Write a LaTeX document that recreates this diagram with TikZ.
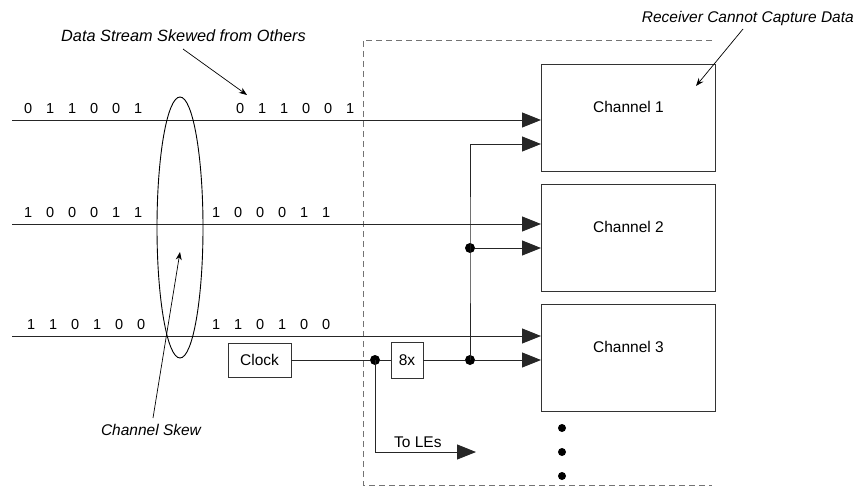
\documentclass[tikz,border=0pt]{standalone}
\usepackage{fontspec}
\setmainfont{Liberation Sans}
\usetikzlibrary{arrows.meta}
\tikzset{
  wire/.style={line width=0.9pt, draw=black!85},
  tip/.style={-{Triangle[length=19pt,width=15pt]}},
  chanbox/.style={draw=black!80, line width=1pt, minimum width=174pt, minimum height=107pt, anchor=north west, inner sep=0pt},
  smallbox/.style={draw=black!80, line width=0.8pt, inner sep=0pt, font=\fontsize{15.5}{18}\selectfont},
  chantext/.style={font=\fontsize{15.5}{18}\selectfont},
  bits/.style={font=\fontsize{14.5}{17}\selectfont, inner sep=0pt, anchor=south west},
  lbl/.style={font=\fontsize{15.5}{18}\selectfont\itshape, inner sep=0pt},
  note/.style={line width=0.7pt, -{Stealth[length=8pt,width=6pt]}},
  dot/.style={circle, fill=black, inner sep=0pt, minimum size=10pt},
  dotsm/.style={circle, fill=black, inner sep=0pt, minimum size=8pt}
}
\newcommand{\bitrow}[6]{#1\hspace{13.9pt}#2\hspace{13.9pt}#3\hspace{13.9pt}#4\hspace{13.9pt}#5\hspace{13.9pt}#6}
\begin{document}
\begin{tikzpicture}[x=1pt,y=-1pt]
\useasboundingbox (0,0) rectangle (857,487);
% dashed receiver region
\draw[black!55, line width=0.6pt, dash pattern=on 6pt off 4pt] (712,40) -- (363,40) -- (363,485) -- (712,485);
% channel boxes
\node[chanbox] (ch1) at (541,64) {};
\node[chanbox] (ch2) at (541,184) {};
\node[chanbox] (ch3) at (541,304) {};
\node[chantext] at ([yshift=-43pt]ch1.north) {Channel 1};
\node[chantext] at ([yshift=-43pt]ch2.north) {Channel 2};
\node[chantext] at ([yshift=-43pt]ch3.north) {Channel 3};
% data lines
\coordinate (s1) at (12,120);
\coordinate (s2) at (12,224);
\coordinate (s3) at (12,336);
\draw[wire,tip] (s1) -- (s1 -| ch1.west);
\draw[wire,tip] (s2) -- (s2 -| ch1.west);
\draw[wire,tip] (s3) -- (s3 -| ch1.west);
% bits
\node[bits] (b1l) at (24,114) {\bitrow011001};
\node[bits] (b1r) at (236,114) {\bitrow011001};
\node[bits] (b2l) at (24,218) {\bitrow100011};
\node[bits] (b2r) at (212,218) {\bitrow100011};
\node[bits] (b3l) at (27,330) {\bitrow110100};
\node[bits] (b3r) at (212,330) {\bitrow110100};
% skew ellipse
\draw[line width=0.9pt] (180,227.5) ellipse [x radius=23, y radius=130.5];
% clock
\node[smallbox, minimum width=63pt, minimum height=34pt] (clk) at (259.5,360) {Clock};
\node[smallbox, minimum width=32pt, minimum height=36pt] (pll) at (407,360) {8x};
\node[dot] (j0) at (375,360) {};
\node[dot] (j3) at (470,360) {};
\node[dot] (j2) at (470,248) {};
\coordinate (j1) at (470,144);
\coordinate (le) at (375,452);
\coordinate (leend) at (476,452);
\draw[wire] (clk.east) -- (j0) -- (pll.west);
\draw[wire] (pll.east) -- (j3);
\draw[wire,tip] (j3) -- (j3 -| ch3.west);
\draw[wire,tip] (j2) -- (j2 -| ch2.west);
\draw[wire,tip] (j3.center) -- (j2.center) -- (j1) -- (j1 -| ch1.west);
\draw[wire,tip] (j0.center) -- (le) -- (leend);
\node[font=\fontsize{15.5}{18}\selectfont, anchor=south west, inner sep=0pt] (tole) at (394,448) {To LEs};
% continuation dots
\node[dotsm] (e1) at (562,428) {};
\node[dotsm] (e2) at (562,452) {};
\node[dotsm] (e3) at (562,476) {};
% annotations
\node[lbl, anchor=west, font=\fontsize{16.3}{19}\selectfont\itshape] (t1) at (61,36) {Data Stream Skewed from Others};
\node[lbl, anchor=east] (t2) at (854,18) {Receiver Cannot Capture Data};
\node[lbl] (t3) at (151,430) {Channel Skew};
\coordinate (a1) at (247,95);
\coordinate (a2) at (696,86);
\coordinate (a3) at (180,252);
\draw[note] (183,49) -- (a1);
\draw[note] (743,29) -- (a2);
\draw[note] (153,418) -- (a3);
\end{tikzpicture}
\end{document}
